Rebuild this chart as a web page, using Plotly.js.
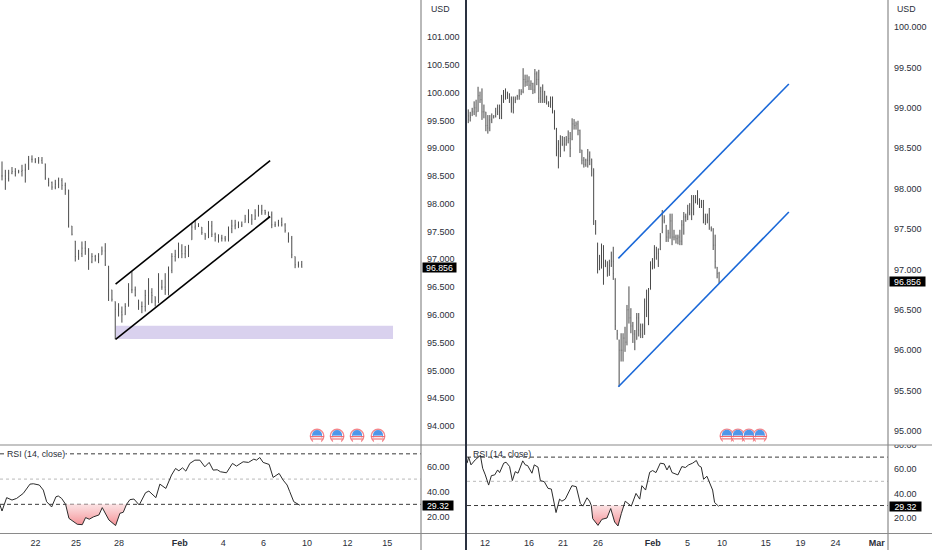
<!DOCTYPE html>
<html><head><meta charset="utf-8">
<script src="https://cdn.plot.ly/plotly-3.0.1.min.js"></script>
<style>html,body{margin:0;padding:0;background:#fff}#c{width:932px;height:550px}</style>
</head><body><div id="c"></div>
<script>
// ---------- left chart data (bar index, prices) ----------
const leftHigh=[98.76,98.61,98.61,98.66,98.64,98.61,98.70,98.72,98.86,98.87,98.82,98.84,98.84,98.72,98.46,98.40,98.43,98.47,98.46,98.38,98.25,97.60,97.33,97.17,97.32,97.33,97.20,97.11,97.08,97.11,97.23,97.29,96.88,96.45,96.24,96.21,96.15,96.21,96.57,96.78,96.51,96.27,96.24,96.45,96.66,96.48,96.33,96.75,96.63,96.75,96.87,97.11,97.17,97.30,97.27,97.24,97.26,97.65,97.71,97.65,97.58,97.47,97.69,97.69,97.48,97.45,97.44,97.42,97.59,97.71,97.71,97.68,97.68,97.80,97.90,97.81,97.90,97.98,97.98,97.89,97.86,97.86,97.68,97.71,97.75,97.65,97.48,97.42,97.05,96.96,96.97];
const leftLow=[98.42,98.25,98.40,98.53,98.49,98.55,98.49,98.38,98.61,98.74,98.73,98.72,98.72,98.43,98.31,98.25,98.26,98.28,98.25,98.16,97.57,97.43,96.96,96.99,97.04,97.08,96.81,96.93,96.96,96.93,97.08,96.88,96.25,96.24,95.56,95.97,95.86,96.00,96.15,96.39,96.33,96.09,96.03,96.06,96.18,96.21,96.15,96.21,96.45,96.36,96.35,96.75,96.96,97.02,97.02,97.02,97.04,97.35,97.53,97.58,97.44,97.35,97.38,97.40,97.32,97.30,97.32,97.32,97.32,97.47,97.54,97.56,97.58,97.66,97.65,97.62,97.71,97.77,97.80,97.80,97.75,97.56,97.58,97.59,97.59,97.48,97.30,97.02,96.84,96.85,96.85];
const leftClose=[98.50,98.45,98.55,98.58,98.55,98.58,98.60,98.62,98.80,98.80,98.76,98.78,98.73,98.46,98.38,98.30,98.35,98.42,98.33,98.25,97.60,97.45,97.05,97.10,97.20,97.15,96.95,97.05,97.00,97.05,97.15,96.90,96.45,96.28,96.10,96.05,96.00,96.15,96.45,96.45,96.35,96.15,96.15,96.35,96.40,96.35,96.25,96.50,96.50,96.45,96.80,97.05,97.08,97.15,97.10,97.15,97.20,97.58,97.60,97.60,97.48,97.42,97.60,97.45,97.40,97.38,97.38,97.36,97.55,97.60,97.62,97.60,97.62,97.72,97.80,97.72,97.78,97.85,97.88,97.84,97.80,97.62,97.62,97.66,97.62,97.52,97.38,97.08,96.90,96.90,96.856];
const leftRsiIdx=[-0.6,0,1.4,3,4.4,6.4,8.4,9.4,11.2,12.4,13.4,14.9,16.2,16.9,17.9,19.1,20.1,21.4,22.6,24.1,25.1,26.2,27.4,29.1,30.1,32.1,34.1,35.4,36.4,37.4,38.4,39.6,41.2,43.1,44.1,46.2,47.4,49.2,50.9,52.1,53.1,54.2,55.2,56.4,57.9,59.4,60.9,62.2,63.4,64.6,65.6,67.4,69.2,70.4,72.4,74,75.6,76.4,77.4,78.4,80.2,81.4,83.2,84.4,85.6,86.4,87.6,89.4];
const leftRsi=[29.5,24.7,35.3,33.4,34.7,38.7,46,46.3,45.3,41.3,32.1,27.9,36,36.6,34.7,30,18.9,16.8,14.2,13.9,19.5,18.2,20,21.6,27.4,17.6,13.2,22.9,23.7,30,33.7,34.2,29.5,39.2,40.5,35.3,46,42.6,53.2,58.4,56.6,58.9,56.3,62.4,65,65,59.7,63.2,57.1,57.4,55.8,55,62.4,60.3,63.7,63.2,65.8,65,67.1,63.2,61.6,51.3,54.5,49.2,45.3,40,32.1,29.32];
const leftOversold=[19.1,37.4];
const leftUpperX=[34.1,80.5], leftUpperY=[96.555,98.774];
const leftLowerX=[34.1,80.5], leftLowerY=[95.56,97.77];
const zoneX=[34.2,117.4], zoneY=[95.565,95.805];
const leftEventX=[94.6,100.6,106.6,112.9], leftEventY=[93.82,93.82,93.82,93.82];
const leftTickVals=[10.06,22.2,35.1,53.4,66.4,78.5,91.6,103.7,115.7];
const leftTickText=['22','25','28','<b>Feb</b>','4','6','10','12','15'];
// ---------- right chart data ----------
const rightHigh=[98.94,98.98,98.95,99.0,99.08,99.10,99.26,99.20,99.24,99.04,98.95,98.91,98.91,98.93,98.91,99.0,99.04,99.04,99.16,99.22,99.24,99.20,99.18,99.14,99.14,99.14,99.16,99.23,99.23,99.49,99.41,99.41,99.39,99.34,99.31,99.48,99.45,99.47,99.26,99.29,99.21,99.15,99.08,99.14,99.14,98.97,98.75,98.60,98.66,98.65,98.64,98.65,98.72,98.70,98.87,98.86,98.83,98.84,98.73,98.48,98.39,98.37,98.49,98.46,98.37,98.25,97.61,97.33,97.18,97.32,97.30,97.12,97.10,97.12,97.22,97.28,96.89,96.25,96.13,96.21,96.21,96.29,96.56,96.79,96.52,96.35,96.25,96.46,96.46,96.33,96.33,96.64,96.75,96.77,97.10,97.14,97.30,97.28,97.26,97.45,97.735,97.67,97.55,97.49,97.69,97.69,97.49,97.43,97.43,97.49,97.61,97.71,97.69,97.80,97.82,97.92,97.92,97.92,97.98,97.88,97.86,97.86,97.69,97.69,97.76,97.53,97.51,97.43,97.03,96.97];
const rightLow=[98.75,98.81,98.83,98.90,98.91,98.89,98.95,99.06,98.85,98.87,98.71,98.68,98.71,98.81,98.87,98.88,98.91,98.86,98.86,99.06,99.10,99.11,99.06,98.94,98.93,99.06,99.10,99.10,99.16,99.18,99.26,99.27,99.22,99.22,99.17,99.18,99.28,99.06,99.06,99.06,99.06,99.04,99.01,99.0,98.93,98.73,98.40,98.25,98.39,98.53,98.46,98.53,98.56,98.39,98.60,98.73,98.73,98.66,98.44,98.30,98.26,98.27,98.26,98.29,98.15,97.55,97.43,96.95,96.99,97.01,96.81,97.03,96.91,96.92,97.03,96.87,96.25,96.13,95.55,95.86,95.86,95.98,96.06,96.33,96.21,96.09,96.0,96.13,96.17,96.15,96.15,96.19,96.41,96.31,96.75,97.0,97.01,97.12,97.03,97.24,97.45,97.57,97.34,97.34,97.38,97.30,97.36,97.32,97.31,97.30,97.30,97.43,97.59,97.61,97.67,97.61,97.67,97.82,97.80,97.76,97.76,97.57,97.55,97.57,97.49,97.47,97.24,97.01,96.89,96.83];
const rightClose=[98.85,98.9,98.88,98.95,99.0,98.95,99.15,99.1,98.95,98.95,98.78,98.75,98.85,98.86,98.89,98.95,99.0,98.95,99.12,99.15,99.14,99.16,99.1,99.0,99.05,99.1,99.14,99.15,99.2,99.35,99.32,99.33,99.28,99.3,99.22,99.42,99.35,99.12,99.2,99.1,99.12,99.07,99.05,99.12,98.97,98.76,98.5,98.55,98.5,98.55,98.55,98.6,98.62,98.5,98.8,98.78,98.8,98.72,98.48,98.35,98.3,98.35,98.35,98.4,98.25,97.6,97.5,97.0,97.1,97.1,97.0,97.1,96.98,97.05,97.1,96.95,96.3,96.2,96.0,96.0,96.15,96.1,96.5,96.4,96.3,96.2,96.1,96.4,96.25,96.2,96.3,96.6,96.5,96.75,97.05,97.1,97.15,97.2,97.2,97.4,97.6,97.6,97.4,97.45,97.6,97.4,97.4,97.38,97.4,97.35,97.55,97.65,97.65,97.7,97.7,97.85,97.75,97.85,97.85,97.82,97.8,97.65,97.6,97.62,97.55,97.5,97.3,97.1,96.95,96.856];
const rightRsiIdx=[0.4,1.2,2.4,4.6,7.2,8.35,9.7,11.4,12.8,14.5,16,17,19.1,20.3,22.1,23.5,25,26.4,28.8,30.1,31.3,33.5,34.7,36.6,37.8,39.8,41.7,43.4,45.8,47.6,48.8,50.5,53.9,56.1,58.2,59.5,61.6,62.9,63.8,64.5,67.2,69.2,71.8,73.7,75.7,77.4,79.1,80.3,81.1,84.2,86.6,88.5,89.6,91.5,93.6,95.1,96.8,99,101,102.4,103.6,105,108,110,111.8,113.5,115.5,117.4,118.6,119.9,121.1,122.8,124.5,125.7,126.7,128.8];
const rightRsi=[65,70,63.6,67.8,71.4,60.8,55.3,46.9,54.7,55.3,59.4,57.2,65,65.8,62.2,50.6,58,56.7,66.9,63.6,63,56.7,63.6,61.7,50.6,49.7,44.2,43.6,24.2,35.3,33.6,35.3,46.4,45.6,31.7,29.5,36.4,33.6,30,19.2,13.6,18.6,19.7,27.5,16.4,13.1,23.3,30,33.6,29.5,40,35.3,46.4,42.8,57.5,58.9,57.2,65,64.4,59.4,63,57.2,55.3,62.2,61.4,63.6,65,67.2,63,61.7,51.7,54.2,48.3,42.8,32.5,29.32];
const rightOversold=[63.8,80.3];
const rightUpperX=[77.6,164.6], rightUpperY=[97.137,99.295];
const rightLowerX=[77.6,164.6], rightLowerY=[95.548,97.71];
const rightEventX=[133,138.6,144.2,149.8], rightEventY=[94.94,94.94,94.94,94.94];
const rightTickVals=[9.6,32,49.3,67.2,95.1,112.9,130.5,152.8,170.6,188.4,209.5];
const rightTickText=['12','16','21','26','<b>Feb</b>','5','10','15','19','24','<b>Mar</b>'];
// ---------- shared labels ----------
const lastPrice=96.856, lastRsi=29.32;
const leftPriceTicks=[94,94.5,95,95.5,96,96.5,97,97.5,98,98.5,99,99.5,100,100.5,101];
const rightPriceTicks=[95,95.5,96,96.5,97,97.5,98,98.5,99,99.5,100];
const leftRsiTicks=[20,40,60], rightRsiTicks=[20,40,60,80];
const rsiLevels=[70,50,30];

const W=932,H=550;
const font='"Liberation Sans",Arial,sans-serif';
const px=v=>v/W, py=v=>1-v/H;
const barColor='#4a4a4a', ink='#2a2e39';

function opens(close,high,low){return close.map((c,i)=>{const p=i?close[i-1]:c;return Math.min(high[i],Math.max(low[i],p));});}
function bars(high,low,close,xa,ya){
  const o=opens(close,high,low);
  return {type:'ohlc',x:close.map((_,i)=>i),open:o,high,low,close,xaxis:xa,yaxis:ya,tickwidth:0.12,
    increasing:{line:{color:barColor,width:1}},decreasing:{line:{color:barColor,width:1}},hoverinfo:'skip',showlegend:false};
}
function line(x,y,color,width,xa,ya){return {type:'scatter',mode:'lines',x,y,xaxis:xa,yaxis:ya,line:{color,width},hoverinfo:'skip',showlegend:false};}
function oversold(idx,vals,rng,xa,ya){
  const xs=[],ys=[];idx.forEach((v,i)=>{if(v>=rng[0]&&v<=rng[1]){xs.push(v);ys.push(Math.min(vals[i],30));}});
  return [
    {type:'scatter',mode:'lines',x:xs,y:xs.map(()=>30),xaxis:xa,yaxis:ya,line:{width:0},hoverinfo:'skip',showlegend:false},
    {type:'scatter',mode:'lines',x:xs,y:ys,xaxis:xa,yaxis:ya,line:{width:0},fill:'tonexty',hoverinfo:'skip',showlegend:false,
     fillgradient:{type:'vertical',start:30,stop:13,colorscale:[[0,'rgba(250,215,217,0.75)'],[1,'rgba(244,135,140,0.95)']]}}
  ];
}
function events(x,y,unit,xa,ya){
  const m=(yy,sym,size,color,lw,lc)=>({type:'scatter',mode:'markers',x,y:yy,xaxis:xa,yaxis:ya,hoverinfo:'skip',showlegend:false,cliponaxis:false,
    marker:{symbol:sym,size,color,line:{width:lw,color:lc||color}}});
  const sh=d=>y.map(v=>v+d*unit);
  return [
    m(y,'circle',13.5,'#ffffff',1.3,'#f4888d'),
    m(sh(1),'circle',10,'#4f97ea',0,'#4f97ea'),
    m(sh(-3.6),'square',8,'#ffffff',0,'#ffffff'),
    m(sh(-0.6),'line-ew',10,'#ffffff',1.1,'#ef6a70'),
    m(sh(-3),'line-ew',8,'#ffffff',1.1,'#ef6a70')
  ];
}
const traces=[
  bars(leftHigh,leftLow,leftClose,'x','y'),
  line(leftUpperX,leftUpperY,'#000000',1.6,'x','y'),
  line(leftLowerX,leftLowerY,'#000000',1.6,'x','y'),
  ...events(leftEventX,leftEventY,0.018,'x','y'),
  ...oversold(leftRsiIdx,leftRsi,leftOversold,'x2','y2'),
  line(leftRsiIdx,leftRsi,'#2b2b2b',1,'x2','y2'),
  bars(rightHigh,rightLow,rightClose,'x3','y3'),
  line(rightUpperX,rightUpperY,'#1a68d8',1.6,'x3','y3'),
  line(rightLowerX,rightLowerY,'#1a68d8',1.6,'x3','y3'),
  ...events(rightEventX,rightEventY,0.0124,'x3','y3'),
  ...oversold(rightRsiIdx,rightRsi,rightOversold,'x4','y4'),
  line(rightRsiIdx,rightRsi,'#2b2b2b',1,'x4','y4')
];
const leftDom=[0,px(421)], rightDom=[px(467),px(888)];
const priceDom=[py(445),1], rsiDom=[py(533.5),py(445)];
const leftXR=[-0.6,125.8], rightXR=[0.36,215.2];
function xa(dom,range,anchor,vals,text){
  const o={domain:dom,range,anchor,type:'linear',showgrid:false,zeroline:false,showline:false,ticks:'',fixedrange:true,rangeslider:{visible:false}};
  if(vals){o.tickmode='array';o.tickvals=vals;o.ticktext=text;o.tickfont={family:font,size:9,color:ink};o.ticklabelstandoff=2;}
  else o.showticklabels=false;
  return o;
}
function ya(dom,range,anchor,vals,fmt){
  return {domain:dom,range,anchor,side:'right',type:'linear',showgrid:false,zeroline:false,showline:false,ticks:'',fixedrange:true,
    tickmode:'array',tickvals:vals,ticktext:vals.map(v=>v.toFixed(fmt)),tickfont:{family:font,size:9,color:ink},ticklabelstandoff:5};
}
const sep=(x0,y0,x1,y1,color,width)=>({type:'line',xref:'paper',yref:'paper',x0:px(x0),x1:px(x1),y0:py(y0),y1:py(y1),line:{color,width},layer:'above'});
const level=(v,xr,yr)=>({type:'line',xref:xr+' domain',yref:yr,x0:0,x1:1,y0:v,y1:v,layer:'below',
  line:{color:v===50?'#b9b9b9':'#3a3a3a',width:1,dash:v===50?'3px,3px':'4px,3px'}});
const shapes=[
  {type:'rect',xref:'x',yref:'y',x0:zoneX[0],x1:zoneX[1],y0:zoneY[0],y1:zoneY[1],fillcolor:'#d9d1ee',line:{width:0},layer:'below'},
  ...rsiLevels.map(v=>level(v,'x2','y2')),
  ...rsiLevels.map(v=>level(v,'x4','y4')),
  {type:'rect',xref:'paper',yref:'paper',x0:px(889),x1:1,y0:py(445),y1:py(437.5),fillcolor:'#ffffff',line:{width:0},layer:'above'},
  sep(0,445,932,445,'#8a8a8a',1.2),
  sep(0,533.5,932,533.5,'#8a8a8a',1.2),
  sep(421,0,421,550,'#8a8a8a',1.2),
  sep(888,0,888,550,'#8a8a8a',1.2),
  sep(466,0,466,550,'#2a3140',2)
];
function tag(text,x,y,yref,w,h,size){return {xref:'paper',yref,x:px(x),y,xanchor:'left',yanchor:'middle',text,showarrow:false,bgcolor:'#000000',
  font:{family:font,size:size,color:'#ffffff'},width:w,height:h,borderpad:0,align:'center'};}
function note(text,x,y,bg){return {xref:'paper',yref:'paper',x:px(x),y:py(y),xanchor:'left',yanchor:'middle',text,showarrow:false,bgcolor:bg||'rgba(0,0,0,0)',
  font:{family:font,size:8.8,color:ink},borderpad:0};}
const annotations=[
  note('USD',430,9),note('USD',896,9),
  note('RSI (14, close)',5.5,454,'#ffffff'),note('RSI (14, close)',472,454),
  tag(lastPrice.toFixed(3),422,lastPrice,'y',33,9,8.8),
  tag(lastPrice.toFixed(3),888.5,lastPrice,'y3',35,9,8.8),
  tag(lastRsi.toFixed(2),422,lastRsi,'y2',30,9,8.8),
  tag(lastRsi.toFixed(2),888.5,lastRsi,'y4',31,9,8.8)
];
const layout={
  width:W,height:H,margin:{l:0,r:0,t:0,b:0},paper_bgcolor:'#ffffff',plot_bgcolor:'#ffffff',showlegend:false,font:{family:font,size:9,color:ink},
  xaxis:xa(leftDom,leftXR,'y'),
  yaxis:ya(priceDom,[93.658,101.666],'x',leftPriceTicks,3),
  xaxis2:xa(leftDom,leftXR,'y2',leftTickVals,leftTickText),
  yaxis2:ya(rsiDom,[6.9,77],'x2',leftRsiTicks,2),
  xaxis3:xa(rightDom,rightXR,'y3'),
  yaxis3:ya(priceDom,[94.827,100.334],'x3',rightPriceTicks,3),
  xaxis4:xa(rightDom,rightXR,'y4',rightTickVals,rightTickText),
  yaxis4:ya(rsiDom,[6.9,80],'x4',rightRsiTicks,2),
  shapes,annotations
};
Plotly.newPlot('c',traces,layout,{staticPlot:true,displayModeBar:false});
</script></body></html>
